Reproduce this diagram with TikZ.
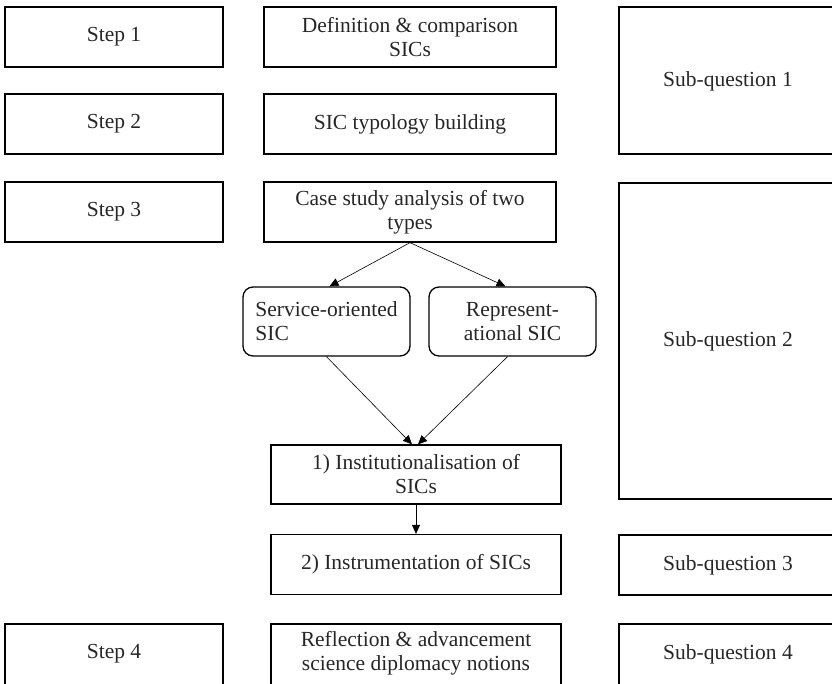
\documentclass[tikz,border=0pt]{standalone}
\usepackage{fontspec}
\setmainfont{Liberation Serif}
\usetikzlibrary{arrows.meta,calc}
\begin{document}
\begin{tikzpicture}[x=1pt,y=-1pt,
  txt/.style={font=\fontsize{21.5}{24}\selectfont, align=center, text=black!85},
  qtxt/.style={txt},
  box/.style={txt, draw, line width=1.3pt, rectangle, inner sep=0pt},
  rbox/.style={txt, draw, line width=1.3pt, rectangle, rounded corners=10pt, inner sep=0pt,
    minimum width=167pt, minimum height=69pt},
  lbox/.style={box, minimum width=218pt, minimum height=60pt},
  mbox/.style={box, minimum width=292pt, minimum height=60pt},
  ibox/.style={box, minimum width=290pt},
  qframe/.style={draw, line width=1.3pt},
  conn/.style={line width=0.6pt, -{Triangle[length=9pt,width=8pt]}}]
\useasboundingbox (0,0) rectangle (832,683);

% left column
\node[lbox] (s1) at (114,37) {Step 1};
\node[lbox] (s2) at (114,124) {Step 2};
\node[lbox] (s3) at (114,212) {Step 3};
\node[lbox, minimum height=62pt] (s4) at (114,655) {};
\node[txt] (s4t) at (114,654) {Step 4};

% middle column
\node[mbox] (m1) at (410,37) {Definition \& comparison\\SICs};
\node[mbox] (m2) at (410,124) {SIC typology building};
\node[mbox] (m3) at (410,212) {Case study analysis of two\\types};
\node[rbox, align=left] (svc) at (326.5,321.5) {Service-oriented\\SIC};
\node[rbox] (rep) at (512.5,321.5) {Represent-\\ational SIC};
\node[ibox, minimum height=59pt] (inst) at (416,474.5) {1) Institutionalisation of\\SICs};
\node[ibox, minimum height=60pt] (instr) at (416,564.5) {2) Instrumentation of SICs};
\node[ibox, minimum height=62pt] (refl) at (416,655) {};
\node[txt] (reflt) at (416,653) {Reflection \& advancement\\science diplomacy notions};

% right column
\draw[qframe] (619,7) rectangle (860,154);
\node[qtxt] (q1) at (728,81) {Sub-question 1};
\draw[qframe] (619,183) rectangle (860,499);
\node[qtxt] (q2) at (728,341) {Sub-question 2};
\draw[qframe] (619,535) rectangle (860,595);
\node[qtxt] (q3) at (728,565) {Sub-question 3};
\draw[qframe] (619,624) rectangle (860,690);
\node[qtxt] (q4) at (728,654) {Sub-question 4};

% connectors
\draw[conn] (m3.south) -- ($(svc.north)+(3,0)$);
\draw[conn] (m3.south) -- ($(rep.north)+(-7,0)$);
\draw[conn] (svc.south) -- ($(inst.north)+(-4,0)$);
\draw[conn] ($(rep.south)+(-5,0)$) -- ($(inst.north)+(2,0)$);
\draw[conn] (inst.south) -- (instr.north);
\end{tikzpicture}
\end{document}
